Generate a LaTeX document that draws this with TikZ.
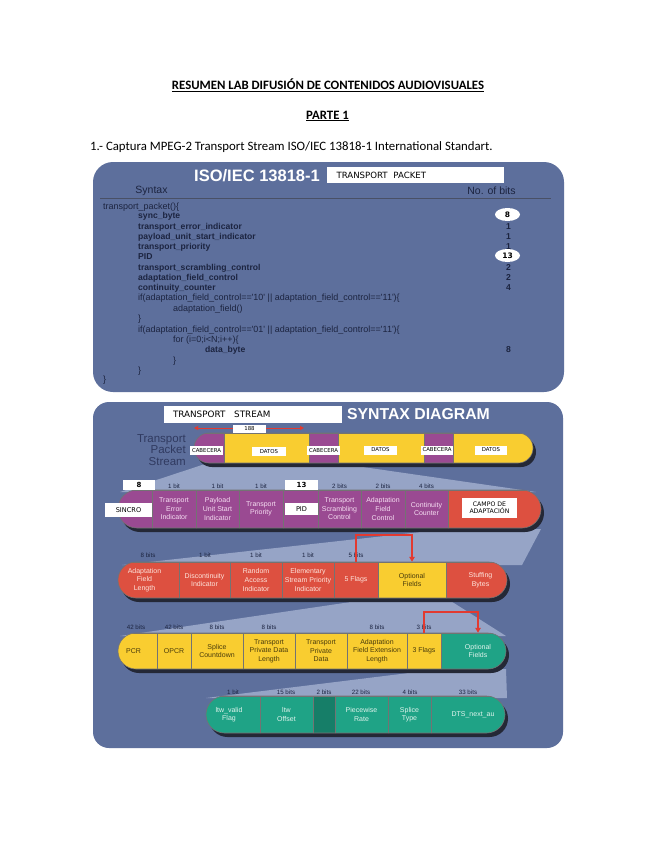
\documentclass[tikz,border=0pt]{standalone}
\usepackage{fontspec}
\setmainfont{Carlito}
\newfontfamily\arial{Liberation Sans}
\newfontfamily\hand{DejaVu Sans}
\usetikzlibrary{arrows.meta,shapes.geometric}
\definecolor{panel}{RGB}{93,111,156}
\definecolor{funnelc}{RGB}{150,164,198}
\definecolor{codetext}{RGB}{28,36,64}
\definecolor{purp}{RGB}{154,74,146}
\definecolor{yel}{RGB}{249,205,48}
\definecolor{redc}{RGB}{221,80,64}
\definecolor{grn}{RGB}{31,163,134}
\definecolor{dgrn}{RGB}{22,126,104}
\definecolor{shad}{RGB}{36,40,54}
\definecolor{arrowred}{RGB}{226,58,48}
\definecolor{ptext}{RGB}{246,222,242}
\definecolor{rtext}{RGB}{253,228,220}
\definecolor{ytext}{RGB}{74,60,12}
\definecolor{gtext}{RGB}{223,243,236}
\definecolor{labtext}{RGB}{48,58,96}
\newcommand\mkcell[8]{%
  \pgfmathsetmacro\mkW{#3-#2}\pgfmathsetmacro\mkH{#5-#4}%
  \pgfmathsetmacro\mkX{(#2+#3)/2}\pgfmathsetmacro\mkY{(#4+#5)/2}%
  \node[cellst, fill=#6, text=#7, minimum width=\mkW pt, minimum height=\mkH pt] (#1) at (\mkX,\mkY) {#8};}
\begin{document}
\begin{tikzpicture}[x=1pt,y=-1pt,
  cellst/.style={draw=black!55, line width=0.5pt, inner sep=0pt, align=center,
    font=\arial\fontsize{7}{8.6}\selectfont},
  bitlab/.style={font=\arial\fontsize{6.2}{7}\selectfont, text=codetext, inner sep=0pt},
  hwbox/.style={fill=white, inner sep=1pt, align=center, text=black,
    font=\hand\fontsize{5.4}{6.2}\selectfont},
  codeb/.style={anchor=base west, inner sep=0pt, text=codetext, font=\arial\bfseries\fontsize{8.6}{10}\selectfont},
  coder/.style={anchor=base west, inner sep=0pt, text=codetext, font=\arial\fontsize{9}{10}\selectfont},
  bitnum/.style={anchor=base, inner sep=0pt, text=codetext, font=\arial\bfseries\fontsize{8.6}{10}\selectfont},
  redarr/.style={draw=arrowred, line width=1.6pt, -{Triangle[length=5pt,width=5.5pt]}},
  rowline/.style={draw=black!55, line width=0.6pt}]
\useasboundingbox (0,0) rectangle (655,848);
\fill[white] (0,0) rectangle (655,848);

% headings
\node[font=\fontsize{12.8}{14}\selectfont\bfseries, inner sep=0pt] (title) at (328,85)
  {\underline{RESUMEN LAB DIFUSIÓN DE CONTENIDOS AUDIOVISUALES}};
\node[font=\fontsize{12.8}{14}\selectfont\bfseries, inner sep=0pt] (parte) at (327.5,116) {\underline{PARTE 1}};
\node[anchor=west, font=\fontsize{12.8}{14}\selectfont, inner sep=0pt] (intro) at (90,147)
  {1.- Captura MPEG-2 Transport Stream ISO/IEC 13818-1 International Standart.};

% ===== top panel =====
\fill[panel, rounded corners=20pt] (93,162) rectangle (564,392);
\node[font=\arial\bfseries\fontsize{16.5}{18}\selectfont, text=white, inner sep=0pt] (isotitle) at (257,175.5) {ISO/IEC 13818-1};
\node[hwbox, minimum width=177pt, minimum height=16pt, text width=158pt, align=left,
  font=\hand\fontsize{8.6}{9}\selectfont] (tpbox) at (415.5,175) {TRANSPORT\ \ PACKET};
\node[font=\arial\fontsize{10.5}{12}\selectfont, text=codetext, inner sep=0pt] (syn) at (151.5,191) {Syntax};
\node[font=\arial\fontsize{10.5}{12}\selectfont, text=codetext, inner sep=0pt] (nob) at (491.5,191) {No. of bits};
\coordinate (hl1) at (100,198.5);
\coordinate (hl2) at (551,198.5);
\draw[codetext!80, line width=0.7pt] (hl1) -- (hl2);

\node[coder] (l1) at (103,209) {transport\_packet()\{};
\node[codeb] (l2) at (138,218.5) {sync\_byte};
\node[codeb] (l3) at (138,229) {transport\_error\_indicator};
\node[codeb] (l4) at (138,239) {payload\_unit\_start\_indicator};
\node[codeb] (l5) at (138,249) {transport\_priority};
\node[codeb] (l6) at (138,259) {PID};
\node[codeb] (l7) at (138,270) {transport\_scrambling\_control};
\node[codeb] (l8) at (138,280) {adaptation\_field\_control};
\node[codeb] (l9) at (138,290) {continuity\_counter};
\node[coder] (l10) at (138,300) {if(adaptation\_field\_control=='10' || adaptation\_field\_control=='11')\{};
\node[coder] (l11) at (173,311) {adaptation\_field()};
\node[coder] (l12) at (138,321) {\}};
\node[coder] (l13) at (138,332) {if(adaptation\_field\_control=='01' || adaptation\_field\_control=='11')\{};
\node[coder] (l14) at (173,342) {for (i=0;i<N;i++)\{};
\node[codeb] (l15) at (205,352) {data\_byte};
\node[coder] (l16) at (173,363) {\}};
\node[coder] (l17) at (138,373) {\}};
\node[coder] (l18) at (103,382) {\}};

\node[ellipse, fill=white, minimum width=25pt, minimum height=13pt, inner sep=0pt,
  font=\hand\bfseries\fontsize{7.5}{8}\selectfont] (e8) at (507.5,214.5) {8};
\node[bitnum] (n3) at (508.5,229) {1};
\node[bitnum] (n4) at (508.5,239) {1};
\node[bitnum] (n5) at (508.5,249) {1};
\node[ellipse, fill=white, minimum width=25pt, minimum height=13pt, inner sep=0pt,
  font=\hand\bfseries\fontsize{7.5}{8}\selectfont] (e13) at (507.5,255.5) {13};
\node[bitnum] (n7) at (508.5,270) {2};
\node[bitnum] (n8) at (508.5,280) {2};
\node[bitnum] (n9) at (508.5,290) {4};
\node[bitnum] (n15) at (508.5,352) {8};

% ===== lower panel =====
\fill[panel, rounded corners=16pt] (93,402) rectangle (563,748);
\node[font=\arial\bfseries\fontsize{15.8}{18}\selectfont, text=white, inner sep=0pt] (sdtitle) at (418.5,414.5) {SYNTAX DIAGRAM};
\node[hwbox, minimum width=178pt, minimum height=17pt, text width=160pt, align=left,
  font=\hand\fontsize{8.8}{9}\selectfont] (tsbox) at (253,414.5) {TRANSPORT\ \ \ STREAM};

\node[anchor=east, align=right, inner sep=0pt, text=labtext,
  font=\arial\fontsize{11.5}{11.8}\selectfont] (tps) at (186,450) {Transport\\Packet\\Stream};

% funnels
\fill[funnelc] (205,464) -- (342,464) -- (536,492) -- (120,492) -- cycle;
\fill[funnelc] (448,529) -- (541,529) -- (522,565) -- (122,565) -- cycle;
\fill[funnelc] (378,598) -- (446,598) -- (506,636) -- (120,636) -- cycle;
\fill[funnelc] (441,669) -- (506,669) -- (507,698) -- (206,698) -- cycle;

% row 1
\fill[shad, rounded corners=15pt] (197,437) rectangle (536,467);
\begin{scope}
\clip[rounded corners=15pt] (194,433) rectangle (533,463);
\mkcell{c11}{190}{224}{433}{463}{purp}{ptext}{}
\mkcell{c12}{224}{309}{433}{463}{yel}{ytext}{}
\mkcell{c13}{309}{338}{433}{463}{purp}{ptext}{}
\mkcell{c14}{338}{424}{433}{463}{yel}{ytext}{}
\mkcell{c15}{424}{453}{433}{463}{purp}{ptext}{}
\mkcell{c16}{453}{540}{433}{463}{yel}{ytext}{}
\end{scope}
\draw[rowline, rounded corners=15pt] (194,433) rectangle (533,463);
\node[hwbox, minimum width=33pt, minimum height=9pt] (hw1) at (206.5,450.5) {CABECERA};
\node[hwbox, minimum width=34pt, minimum height=9pt] (hw2) at (269,451.5) {DATOS};
\node[hwbox, minimum width=33pt, minimum height=9pt] (hw3) at (323.5,450.5) {CABECERA};
\node[hwbox, minimum width=33pt, minimum height=9pt] (hw4) at (380.5,450) {DATOS};
\node[hwbox, minimum width=32pt, minimum height=9pt] (hw5) at (437,450) {CABECERA};
\node[hwbox, minimum width=32pt, minimum height=9pt] (hw6) at (491,450) {DATOS};
\coordinate (dl) at (194,428);
\coordinate (dr) at (304,428);
\draw[draw=arrowred, line width=1pt, {Triangle[length=4pt,width=4pt]}-{Triangle[length=4pt,width=4pt]}] (dl) -- (dr);
\node[hwbox, minimum width=33pt, minimum height=8pt] (h188) at (249.5,429) {188};

% row 2
\fill[shad, rounded corners=19pt] (121,494) rectangle (544,532);
\begin{scope}
\clip[rounded corners=19pt] (118,490) rectangle (541,528);
\mkcell{c21}{110}{152}{490}{528}{purp}{ptext}{}
\mkcell{c22}{152}{196}{490}{528}{purp}{ptext}{Transport\\Error\\Indicator}
\mkcell{c23}{196}{239}{490}{528}{purp}{ptext}{Payload\\Unit Start\\Indicator}
\mkcell{c24}{239}{283}{490}{528}{purp}{ptext}{Transport\\Priority}
\mkcell{c25}{283}{318}{490}{528}{purp}{ptext}{}
\mkcell{c26}{318}{361}{490}{528}{purp}{ptext}{Transport\\Scrambling\\Control}
\mkcell{c27}{361}{405}{490}{528}{purp}{ptext}{Adaptation\\Field\\Control}
\mkcell{c28}{405}{448}{490}{528}{purp}{ptext}{Continuity\\Counter}
\mkcell{c29}{448}{550}{490}{528}{redc}{rtext}{}
\end{scope}
\draw[rowline, rounded corners=19pt] (118,490) rectangle (541,528);
\node[hwbox, minimum width=32pt, minimum height=10pt, font=\hand\bfseries\fontsize{7}{8}\selectfont] (hw8) at (139,485) {8};
\node[hwbox, minimum width=33pt, minimum height=10pt, font=\hand\bfseries\fontsize{7}{8}\selectfont] (hw13) at (301.5,485) {13};
\node[hwbox, minimum width=47pt, minimum height=14pt, font=\hand\fontsize{6.6}{7}\selectfont] (hwsin) at (128.5,510) {SINCRO};
\node[hwbox, minimum width=33pt, minimum height=12pt, font=\hand\fontsize{6.6}{7}\selectfont] (hwpid) at (301.5,509) {PID};
\node[hwbox, minimum width=55pt, minimum height=20pt, font=\hand\fontsize{6.2}{7.2}\selectfont] (hwcampo) at (489.5,508) {CAMPO DE\\ADAPTACIÓN};
\node[bitlab] (b22) at (174,486) {1 bit};
\node[bitlab] (b23) at (217.5,486) {1 bit};
\node[bitlab] (b24) at (261,486) {1 bit};
\node[bitlab] (b26) at (339.5,486) {2 bits};
\node[bitlab] (b27) at (383,486) {2 bits};
\node[bitlab] (b28) at (426.5,486) {4 bits};

% row 3
\fill[shad, rounded corners=18pt] (121,566) rectangle (510,602);
\begin{scope}
\clip[rounded corners=18pt] (118,562) rectangle (507,598);
\mkcell{c31}{110}{179}{562}{598}{redc}{rtext}{Adaptation\\Field\\Length}
\mkcell{c32}{179}{230}{562}{598}{redc}{rtext}{Discontinuity\\Indicator}
\mkcell{c33}{230}{282}{562}{598}{redc}{rtext}{Random\\Access\\Indicator}
\mkcell{c34}{282}{334}{562}{598}{redc}{rtext}{Elementary\\Stream Priority\\Indicator}
\mkcell{c35}{334}{378}{562}{598}{redc}{rtext}{5 Flags}
\mkcell{c36}{378}{446}{562}{598}{yel}{ytext}{Optional\\Fields}
\mkcell{c37}{446}{515}{562}{598}{redc}{rtext}{Stuffing\\Bytes}
\end{scope}
\draw[rowline, rounded corners=18pt] (118,562) rectangle (507,598);
\node[bitlab] (b31) at (148,555) {8 bits};
\node[bitlab] (b32) at (205,555) {1 bit};
\node[bitlab] (b33) at (256,555) {1 bit};
\node[bitlab] (b34) at (308,555) {1 bit};
\node[bitlab] (b35) at (356,555) {5 bits};
\draw[redarr] (c35.north) -- ++(0,-27) -| (c36.north);

% row 4
\fill[shad, rounded corners=18pt] (121,637) rectangle (509,673);
\begin{scope}
\clip[rounded corners=18pt] (118,633) rectangle (506,669);
\mkcell{c41}{110}{157}{633}{669}{yel}{ytext}{PCR}
\mkcell{c42}{157}{191}{633}{669}{yel}{ytext}{OPCR}
\mkcell{c43}{191}{243}{633}{669}{yel}{ytext}{Splice\\Countdown}
\mkcell{c44}{243}{295}{633}{669}{yel}{ytext}{Transport\\Private Data\\Length}
\mkcell{c45}{295}{347}{633}{669}{yel}{ytext}{Transport\\Private\\Data}
\mkcell{c46}{347}{407}{633}{669}{yel}{ytext}{Adaptation\\Field Extension\\Length}
\mkcell{c47}{407}{441}{633}{669}{yel}{ytext}{3 Flags}
\mkcell{c48}{441}{515}{633}{669}{grn}{gtext}{Optional\\Fields}
\end{scope}
\draw[rowline, rounded corners=18pt] (118,633) rectangle (506,669);
\node[bitlab] (b41) at (136,627) {42 bits};
\node[bitlab] (b42) at (174,627) {42 bits};
\node[bitlab] (b43) at (217,627) {8 bits};
\node[bitlab] (b44) at (269,627) {8 bits};
\node[bitlab] (b46) at (377,627) {8 bits};
\node[bitlab] (b47) at (424,627) {3 bits};
\draw[redarr] (c47.north) -- ++(0,-21) -| (c48.north);

% row 5
\fill[shad, rounded corners=18.5pt] (209,700) rectangle (508,737);
\begin{scope}
\clip[rounded corners=18.5pt] (206,696) rectangle (505,733);
\mkcell{c51}{198}{260}{696}{733}{grn}{gtext}{ltw\_valid\\Flag}
\mkcell{c52}{260}{313}{696}{733}{grn}{gtext}{ltw\\Offset}
\mkcell{c53}{313}{335}{696}{733}{dgrn}{gtext}{}
\mkcell{c54}{335}{388}{696}{733}{grn}{gtext}{Piecewise\\Rate}
\mkcell{c55}{388}{431}{696}{733}{grn}{gtext}{Splice\\Type}
\mkcell{c56}{431}{515}{696}{733}{grn}{gtext}{DTS\_next\_au}
\end{scope}
\draw[rowline, rounded corners=18.5pt] (206,696) rectangle (505,733);
\node[bitlab] (b51) at (233,692) {1 bit};
\node[bitlab] (b52) at (286,692) {15 bits};
\node[bitlab] (b53) at (324,692) {2 bits};
\node[bitlab] (b54) at (361,692) {22 bits};
\node[bitlab] (b55) at (410,692) {4 bits};
\node[bitlab] (b56) at (468,692) {33 bits};
\end{tikzpicture}
\end{document}
